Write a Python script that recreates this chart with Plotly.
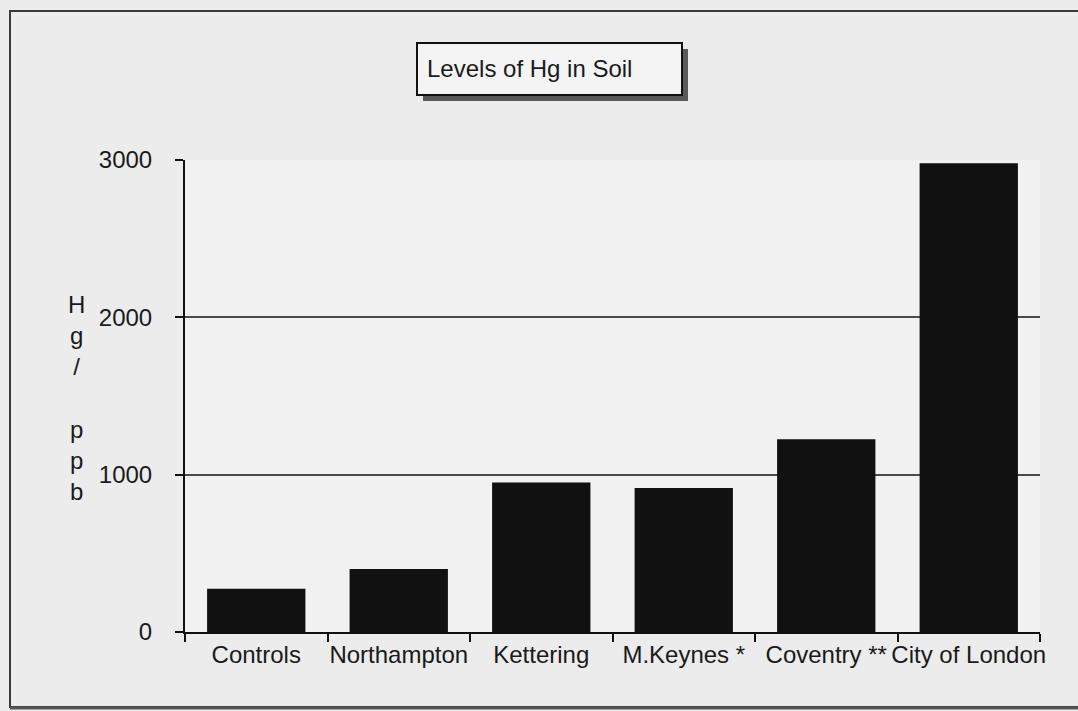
import plotly.graph_objects as go

# Mercury concentration in soil samples (ppb)
sites = ["Controls", "Northampton", "Kettering", "M.Keynes *", "Coventry **", "City of London"]
hg_ppb = [275, 400, 950, 915, 1225, 2980]
y_ticks = [0, 1000, 2000, 3000]

W, H = 1078, 711
L, R, T, B = 185, 38, 160, 79
PW, PH = W - L - R, H - T - B

def px(x):
    return (x - L) / PW

def py(y):
    return 1 - (y - T) / PH

FONT = "Liberation Sans, Arial, sans-serif"
INK = "#1a1a1a"
FS = 24

fig = go.Figure(
    go.Bar(
        x=sites,
        y=hg_ppb,
        marker=dict(color="#111111", line=dict(width=0)),
        width=0.69,
    )
)

fig.update_layout(
    width=W,
    height=H,
    margin=dict(l=L, r=R, t=T, b=B, autoexpand=False),
    paper_bgcolor="#ececec",
    plot_bgcolor="#f1f1f1",
    showlegend=False,
    font=dict(family=FONT, size=FS, color=INK),
)

fig.update_xaxes(
    type="category",
    automargin=False,
    tickangle=0,
    showline=True,
    linecolor="#111111",
    linewidth=2,
    ticks="outside",
    tickson="boundaries",
    ticklen=8,
    tickwidth=2,
    tickcolor="#111111",
    showgrid=False,
    tickfont=dict(size=FS, color=INK),
)

fig.update_yaxes(
    range=[0, 3000],
    automargin=False,
    tickvals=y_ticks,
    ticktext=[str(v) for v in y_ticks],
    showline=True,
    linecolor="#111111",
    linewidth=2,
    ticks="outside",
    ticklen=8,
    tickwidth=2,
    tickcolor="#111111",
    ticklabelstandoff=18,
    showgrid=True,
    gridcolor="#4a4a4a",
    gridwidth=2,
    zeroline=False,
    tickfont=dict(size=FS, color=INK),
)

shapes = [
    # outer chart frame
    dict(type="rect", xref="paper", yref="paper",
         x0=px(10), x1=px(1090), y0=py(707), y1=py(11),
         line=dict(color="#3a3a3a", width=2), layer="below"),
    dict(type="line", xref="paper", yref="paper",
         x0=px(10), x1=px(1090), y0=py(708), y1=py(708),
         line=dict(color="#555555", width=3)),
    # title box shadow and box
    dict(type="rect", xref="paper", yref="paper",
         x0=px(423), x1=px(688), y0=py(101), y1=py(49),
         fillcolor="#5a5a5a", line=dict(width=0)),
    dict(type="rect", xref="paper", yref="paper",
         x0=px(417), x1=px(682), y0=py(95), y1=py(43),
         fillcolor="#f4f4f4", line=dict(color="#111111", width=2)),
]

annotations = [
    dict(text="Levels of Hg in Soil", xref="paper", yref="paper",
         x=px(425), y=py(69), xanchor="left", yanchor="middle",
         showarrow=False, font=dict(family=FONT, size=FS, color=INK)),
    dict(text="H<br>g<br>/<br> <br>p<br>p<br>b", xref="paper", yref="paper",
         x=px(76), y=py(398), xanchor="center", yanchor="middle",
         showarrow=False, align="center",
         font=dict(family=FONT, size=FS, color=INK)),
]

fig.update_layout(shapes=shapes, annotations=annotations)

fig.write_html("out.html")
